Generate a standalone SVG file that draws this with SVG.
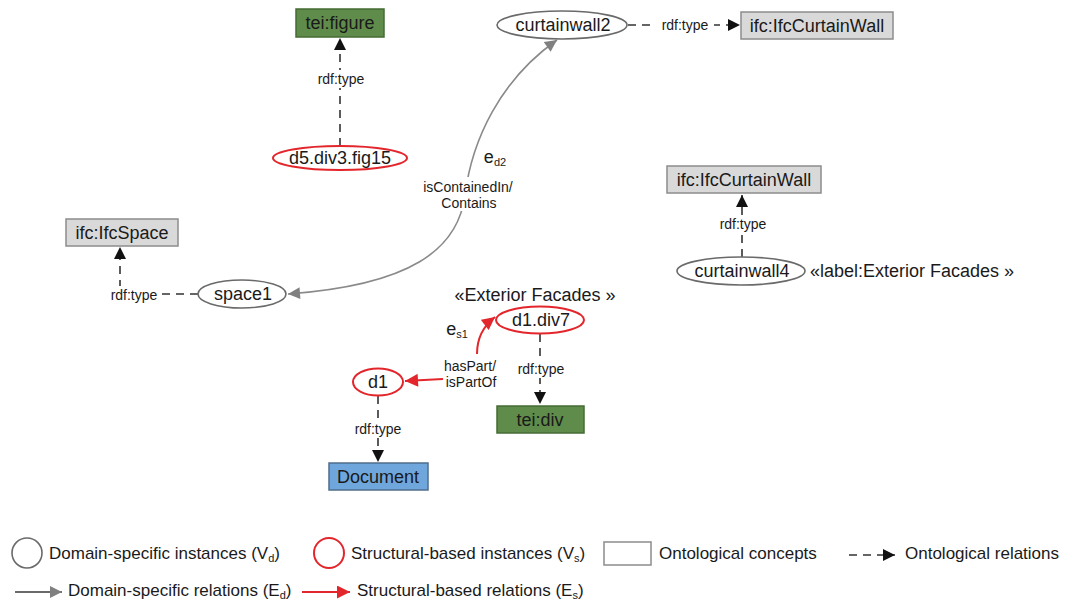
<svg xmlns="http://www.w3.org/2000/svg" width="1073" height="604" viewBox="0 0 1073 604">
<defs>
<style>
text{font-family:"Liberation Sans",Arial,sans-serif;fill:#1a1a1a}
.nl{font-size:18px;text-anchor:middle;dominant-baseline:central}
.el{font-size:14px;text-anchor:middle;dominant-baseline:central}
.lg{font-size:17px;dominant-baseline:central}
.sub{font-size:11px}
.dom{fill:#fff;stroke:#6a6a6a;stroke-width:1.6}
.str{fill:#fff;stroke:#e3262b;stroke-width:2}
.onto{fill:#d9d9d9;stroke:#8c8c8c;stroke-width:1.5}
.green{fill:#5f8c4a;stroke:#466b35;stroke-width:1.5}
.blue{fill:#6fa7dd;stroke:#4f6e8c;stroke-width:1.5}
.dash{fill:none;stroke:#333;stroke-width:1.6;stroke-dasharray:8,6}
.gray{fill:none;stroke:#8a8a8a;stroke-width:1.6}
.red{fill:none;stroke:#e3262b;stroke-width:2}
.bg{fill:#fff}
</style>
<marker id="ab" viewBox="0 0 10 10" refX="10" refY="5" markerWidth="12" markerHeight="12" markerUnits="userSpaceOnUse" orient="auto"><path d="M0,0 L10,5 L0,10 z" fill="#111"/></marker>
<marker id="ag" viewBox="0 0 10 10" refX="10" refY="5" markerWidth="14" markerHeight="12" markerUnits="userSpaceOnUse" orient="auto-start-reverse"><path d="M0,0 L10,5 L0,10 z" fill="#808080"/></marker>
<marker id="ar" viewBox="0 0 10 10" refX="10" refY="5" markerWidth="14" markerHeight="13" markerUnits="userSpaceOnUse" orient="auto"><path d="M0,0 L10,5 L0,10 z" fill="#e3262b"/></marker>
</defs>

<g id="connectors">
  <!-- d5.div3.fig15 -> tei:figure -->
  <path class="dash" d="M340,146 V38" marker-end="url(#ab)"/>
  <rect class="bg" x="316" y="70" width="50" height="18"/>
  <text class="el" x="341" y="79">rdf:type</text>
  <!-- curtainwall2 -> ifc:IfcCurtainWall -->
  <path class="dash" d="M628,25 H740" marker-end="url(#ab)"/>
  <rect class="bg" x="656" y="16" width="58" height="18"/>
  <text class="el" x="685" y="25">rdf:type</text>
  <!-- space1 <-> curtainwall2 -->
  <path class="gray" d="M288,294 C410,285 458,250 465,195 C472,140 500,80 557,40" marker-start="url(#ag)" marker-end="url(#ag)"/>
  <rect class="bg" x="420" y="177" width="96" height="34"/>
  <text class="el" x="468" y="187">isContainedIn/</text>
  <text class="el" x="469" y="203">Contains</text>
  <text class="nl" x="495" y="157">e<tspan class="sub" dy="5">d2</tspan></text>
  <!-- space1 -> ifc:IfcSpace -->
  <path class="dash" d="M198,294 H120 V247" marker-end="url(#ab)"/>
  <rect class="bg" x="106" y="286" width="56" height="18"/>
  <text class="el" x="134" y="295">rdf:type</text>
  <!-- curtainwall4 -> ifc:IfcCurtainWall -->
  <path class="dash" d="M742,257 V195" marker-end="url(#ab)"/>
  <rect class="bg" x="716" y="215" width="54" height="18"/>
  <text class="el" x="743" y="224">rdf:type</text>
  <!-- d1.div7 -> tei:div -->
  <path class="dash" d="M540,334 V404" marker-end="url(#ab)"/>
  <rect class="bg" x="514" y="360" width="54" height="18"/>
  <text class="el" x="541" y="369">rdf:type</text>
  <!-- d1 -> Document -->
  <path class="dash" d="M378,396 V462" marker-end="url(#ab)"/>
  <rect class="bg" x="351" y="420" width="54" height="18"/>
  <text class="el" x="378" y="429">rdf:type</text>
  <!-- structural relations -->
  <path class="red" d="M443,379 L405,381" marker-end="url(#ar)"/>
  <path class="red" d="M477,354 C477,340 482,327 495,317" marker-end="url(#ar)"/>
  <text class="el" x="470" y="366">hasPart/</text>
  <text class="el" x="471" y="382">isPartOf</text>
  <text class="nl" x="457" y="329">e<tspan class="sub" dy="5">s1</tspan></text>
</g>

<g id="tei-figure"><rect class="green" x="296" y="9" width="88" height="28"/><text class="nl" x="340" y="23">tei:figure</text></g>
<g id="d5-div3-fig15"><ellipse class="str" cx="340" cy="158" rx="67" ry="12"/><text class="nl" x="340" y="158">d5.div3.fig15</text></g>
<g id="curtainwall2"><ellipse class="dom" cx="562" cy="25" rx="65" ry="14"/><text class="nl" x="563" y="25">curtainwall2</text></g>
<g id="ifc-curtainwall-top"><rect class="onto" x="741" y="12" width="152" height="27"/><text class="nl" x="817" y="25.5">ifc:IfcCurtainWall</text></g>
<g id="ifc-space"><rect class="onto" x="66" y="219" width="112" height="27"/><text class="nl" x="122" y="232.5">ifc:IfcSpace</text></g>
<g id="space1"><ellipse class="dom" cx="242" cy="294" rx="44" ry="14"/><text class="nl" x="243" y="294">space1</text></g>
<g id="ifc-curtainwall-right"><rect class="onto" x="667" y="166" width="154" height="27"/><text class="nl" x="744" y="179.5">ifc:IfcCurtainWall</text></g>
<g id="curtainwall4"><ellipse class="dom" cx="741" cy="271" rx="64" ry="14"/><text class="nl" x="742" y="271">curtainwall4</text><text class="nl" x="912" y="271">«label:Exterior Facades »</text></g>
<g id="d1-div7"><text class="nl" x="535" y="295">«Exterior Facades »</text><ellipse class="str" cx="540" cy="320" rx="44" ry="13.5"/><text class="nl" x="541" y="320">d1.div7</text></g>
<g id="tei-div"><rect class="green" x="497" y="406" width="87" height="27"/><text class="nl" x="540" y="419.5">tei:div</text></g>
<g id="d1"><ellipse class="str" cx="378" cy="382" rx="25" ry="13.5"/><text class="nl" x="378" y="382">d1</text></g>
<g id="document"><rect class="blue" x="329" y="463" width="99" height="27"/><text class="nl" x="378" y="476.5">Document</text></g>

<g id="legend">
  <circle class="dom" cx="27" cy="553" r="15"/>
  <text class="lg" x="49" y="553">Domain-specific instances (V<tspan class="sub" dy="5">d</tspan><tspan dy="-5">)</tspan></text>
  <circle class="str" cx="329" cy="553" r="15"/>
  <text class="lg" x="351" y="553">Structural-based instances (V<tspan class="sub" dy="5">s</tspan><tspan dy="-5">)</tspan></text>
  <rect fill="#fff" stroke="#8c8c8c" stroke-width="1.5" x="604" y="542" width="47" height="23"/>
  <text class="lg" x="659" y="553">Ontological concepts</text>
  <path class="dash" d="M849,555 H895" stroke-dasharray="7,5" marker-end="url(#ab)"/>
  <text class="lg" x="905" y="553">Ontological relations</text>
  <path d="M15,592 H62" stroke="#6a6a6a" stroke-width="1.8" fill="none" marker-end="url(#ag)"/>
  <text class="lg" x="68" y="590">Domain-specific relations (E<tspan class="sub" dy="5">d</tspan><tspan dy="-5">)</tspan></text>
  <path class="red" d="M302,592 H350" marker-end="url(#ar)"/>
  <text class="lg" x="357" y="590">Structural-based relations (E<tspan class="sub" dy="5">s</tspan><tspan dy="-5">)</tspan></text>
</g>
</svg>
